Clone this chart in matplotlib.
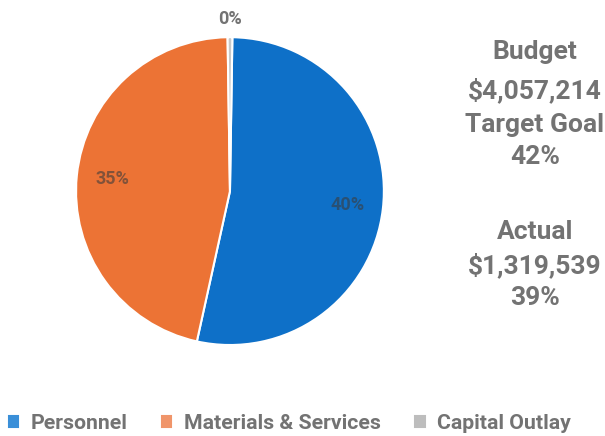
import numpy as np
import matplotlib.pyplot as plt

# spending by category (slice sizes) and share of each category's budget used
categories = ['Personnel', 'Materials & Services', 'Capital Outlay']
spent = [702000, 611000, 6539]
pct_of_budget = ['40%', '35%', '0%']
colors = ['#0E70C8', '#EC7335', '#C8C8C8']

budget_total = '$4,057,214'
target_goal = '42%'
actual_total = '$1,319,539'
actual_pct = '39%'

plt.rcParams['font.family'] = ['Roboto', 'DejaVu Sans']
grey = '#737373'

fig = plt.figure(figsize=(6.05, 4.36), dpi=100)
ax = fig.add_axes([0.1256, 0.2087, 0.509, 0.706])

wedges, _ = ax.pie(spent, colors=colors, startangle=89.1, counterclock=False,
                   wedgeprops=dict(edgecolor='white', linewidth=1.5))
ax.set_xlim(-1, 1)
ax.set_ylim(-1, 1)
ax.set_aspect('equal')

# percentage labels at the middle of each wedge, tiny wedges labelled outside
for w, lab, val in zip(wedges, pct_of_budget, spent):
    mid = np.deg2rad((w.theta1 + w.theta2) / 2)
    if val / sum(spent) < 0.05:
        r = 1.12
        ax.text(r * np.cos(mid), r * np.sin(mid), lab, ha='center', va='center',
                fontsize=13, fontweight='bold', color=grey, clip_on=False)
    else:
        r = 0.77
        ax.text(r * np.cos(mid), r * np.sin(mid), lab, ha='center', va='center',
                fontsize=13, fontweight='bold', color='#3c3c3c', alpha=0.6)

# summary on the right
summary = [('Budget', 52), (budget_total, 90), ('Target Goal', 125), (target_goal, 157),
           ('Actual', 232), (actual_total, 265), (actual_pct, 298)]
for txt, ypx in summary:
    fig.text(535 / 605, 1 - ypx / 436, txt, ha='center', va='center',
             fontsize=19, fontweight='bold', color=grey)

leg = fig.legend(wedges, categories, loc='center', bbox_to_anchor=(0.479, 0.028),
                 ncol=3, frameon=False, fontsize=15.3, handlelength=0.45,
                 handleheight=0.45, handletextpad=0.6, columnspacing=1.6)
for t in leg.get_texts():
    t.set_color(grey)
    t.set_fontweight('bold')
for h, c in zip(leg.legend_handles, ['#3A8FD8', '#F0956A', '#BDBDBD']):
    h.set_facecolor(c)
    h.set_edgecolor(c)

fig.savefig('out.png', dpi=100)
